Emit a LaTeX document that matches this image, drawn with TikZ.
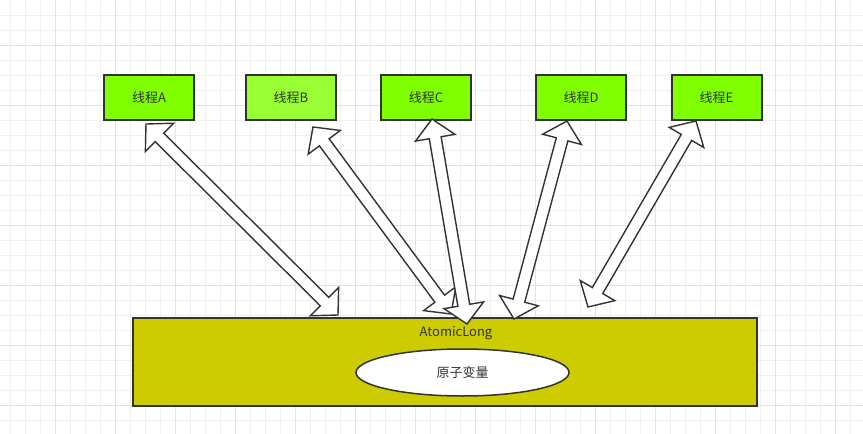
\documentclass[tikz,border=0pt]{standalone}
\usepackage{fontspec}
\setmainfont{Noto Sans CJK SC}
\usetikzlibrary{calc,shapes.geometric}
\definecolor{limeA}{HTML}{80FF00}
\definecolor{limeB}{HTML}{99FF33}
\definecolor{oliveY}{HTML}{CCCC00}
\definecolor{edgec}{HTML}{333333}
\definecolor{gridminor}{HTML}{EFEFEF}
\definecolor{gridmajor}{HTML}{E2E2E2}
\newcommand\flexarrow[2]{%
  \coordinate (ha) at ($(#1)!19pt!(#2)$);
  \coordinate (hb) at ($(#2)!19pt!(#1)$);
  \draw[flexarr] (#1) -- ($(ha)!20pt!90:(#2)$) -- ($(ha)!6pt!90:(#2)$)
    -- ($(hb)!6pt!-90:(#1)$) -- ($(hb)!20pt!-90:(#1)$) -- (#2)
    -- ($(hb)!20pt!90:(#1)$) -- ($(hb)!6pt!90:(#1)$)
    -- ($(ha)!6pt!-90:(#2)$) -- ($(ha)!20pt!-90:(#2)$) -- cycle;}
\begin{document}
\begin{tikzpicture}[x=1pt,y=-1pt,
  txt/.style={text=edgec,font=\fontsize{13}{15}\selectfont},
  thread/.style={draw=edgec,line width=2pt,minimum width=90pt,minimum height=45pt,inner sep=0pt,txt},
  atom/.style={draw=edgec,line width=2pt,fill=oliveY,minimum width=624pt,minimum height=88pt,inner sep=0pt},
  varell/.style={ellipse,draw=edgec,line width=1.5pt,fill=white,minimum width=213pt,minimum height=47pt,inner sep=0pt,txt},
  flexarr/.style={draw=edgec,line width=1.4pt,fill=white,line join=miter}]
\path[use as bounding box,fill=white] (0,0) rectangle (863,434);
\foreach \x in {10,25,...,860} \draw[gridminor,line width=0.8pt] (\x,0) -- (\x,434);
\foreach \y in {15,30,...,430} \draw[gridminor,line width=0.8pt] (0,\y) -- (863,\y);
\foreach \x in {55,115,...,835} \draw[gridmajor,line width=0.9pt] (\x,0) -- (\x,434);
\foreach \y in {45,105,...,405} \draw[gridmajor,line width=0.9pt] (0,\y) -- (863,\y);

\node[thread,fill=limeA] (tA) at (149,97.5) {线程A};
\node[thread,fill=limeB] (tB) at (291,97.5) {线程B};
\node[thread,fill=limeA] (tC) at (426,97.5) {线程C};
\node[thread,fill=limeA] (tD) at (581,97.5) {线程D};
\node[thread,fill=limeA] (tE) at (716.5,97.5) {线程E};

\node[atom] (atomic) at (445,362) {};
\node[txt] (atomlbl) at (456,333.5) {AtomicLong};
\node[varell] (var) at (462.5,372.5) {原子变量};

\coordinate (aT) at (146,124); \coordinate (aB) at (338,315);
\coordinate (bT) at (313,127); \coordinate (bB) at (451,314);
\coordinate (cT) at (432,119); \coordinate (cB) at (467,324);
\coordinate (dT) at (567,121); \coordinate (dB) at (514,319);
\coordinate (eT) at (696,121); \coordinate (eB) at (588,307);
\flexarrow{aT}{aB}
\flexarrow{bT}{bB}
\flexarrow{cT}{cB}
\flexarrow{dT}{dB}
\flexarrow{eT}{eB}
\end{tikzpicture}
\end{document}
